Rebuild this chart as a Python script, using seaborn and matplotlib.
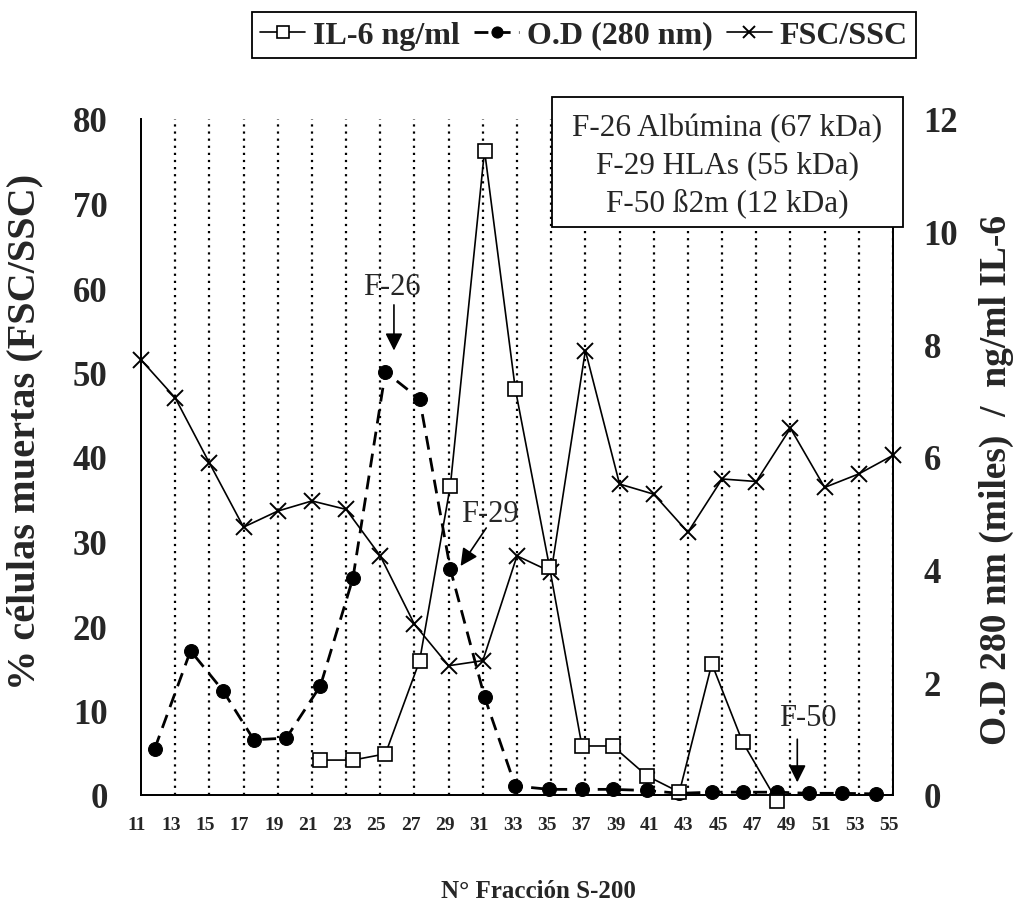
import matplotlib
matplotlib.use("Agg")
import matplotlib.pyplot as plt
import matplotlib.transforms as mtransforms
from matplotlib.patches import Rectangle
import seaborn as sns

# valores
fsc_x = [11, 13, 15, 17, 19, 21, 23, 25, 27, 29, 31, 33, 35, 37, 39, 41, 43, 45, 47, 49, 51, 53, 55]
fsc_y = [51.5, 47.0, 39.3, 31.7, 33.6, 34.8, 33.8, 28.3, 20.2, 15.3, 15.9, 28.3, 26.4,
         52.6, 36.8, 35.6, 31.1, 37.4, 37.1, 43.4, 36.4, 38.0, 40.2]

od_x = [11.8, 13.9, 15.8, 17.6, 19.5, 21.5, 23.4, 25.3, 27.3, 29.1, 31.1, 32.9,
        34.9, 36.8, 38.6, 40.6, 42.5, 44.4, 46.2, 48.2, 50.1, 52.0, 54.0]
od_y = [0.82, 2.56, 1.85, 0.98, 1.01, 1.94, 3.85, 7.51, 7.03, 4.01, 1.74, 0.16,
        0.10, 0.10, 0.10, 0.08, 0.03, 0.05, 0.05, 0.05, 0.03, 0.03, 0.02]

il6_x = od_x[5:20]
il6_y = [0.62, 0.62, 0.73, 2.38, 5.49, 11.44, 7.21, 4.05, 0.87, 0.87, 0.34, 0.05,
         2.33, 0.94, -0.1]

xticks = [11, 13, 15, 17, 19, 21, 23, 25, 27, 29, 31, 33, 35, 37, 39, 41, 43, 45, 47, 49, 51, 53, 55]
grid_x = xticks[1:]
left_ticks = [0, 10, 20, 30, 40, 50, 60, 70, 80]
right_ticks = [0, 2, 4, 6, 8, 10, 12]

sns.set_style("white")
plt.rcParams["font.family"] = ["Liberation Serif", "DejaVu Serif"]
plt.rcParams["font.weight"] = "bold"
plt.rcParams["axes.labelweight"] = "bold"

W, H = 1021, 904
fig = plt.figure(figsize=(W / 100, H / 100), dpi=100)
ax = fig.add_axes([141 / W, 1 - 796 / H, 752 / W, 676 / H])
ax2 = ax.twinx()

for gx in grid_x:
    ax.axvline(gx, color="k", lw=1.6, ls=(0, (1, 2.2)), zorder=0)

sns.lineplot(x=fsc_x, y=fsc_y, ax=ax, color="k", lw=1.2, marker="x",
             markersize=11, markeredgecolor="k", markeredgewidth=1.4,
             label="FSC/SSC", legend=False, clip_on=False)
l_fsc = ax.lines[-1]

sns.lineplot(x=od_x, y=od_y, ax=ax2, color="k", lw=2.0, linestyle=(0, (5, 3)),
             marker="o", markersize=10, markeredgecolor="k", markerfacecolor="k",
             label="O.D (280 nm)", legend=False, clip_on=False)
l_od = ax2.lines[-1]

sns.lineplot(x=il6_x, y=il6_y, ax=ax2, color="k", lw=1.2, marker="s",
             markersize=10, markerfacecolor="white", markeredgecolor="k",
             markeredgewidth=1.2, label="IL-6 ng/ml", legend=False, clip_on=False)
l_il6 = ax2.lines[-1]

ax.set_xlim(11, 55)
ax.set_ylim(0, 80)
ax2.set_ylim(0, 12)
ax.set_xticks(xticks)
ax.set_yticks(left_ticks)
ax2.set_yticks(right_ticks)
ax.tick_params(axis="x", length=0, pad=15, labelsize=14)
ax.tick_params(axis="y", length=0, pad=24, labelsize=25)
ax2.tick_params(axis="y", length=0, pad=22, labelsize=25)

shift = mtransforms.ScaledTranslation(-4 / 100, 0, fig.dpi_scale_trans)
for lbl in ax.get_xticklabels():
    lbl.set_transform(lbl.get_transform() + shift)

for a in (ax, ax2):
    a.spines["top"].set_visible(False)
    for s in ("left", "bottom", "right"):
        a.spines[s].set_color("k")
        a.spines[s].set_linewidth(1.3)

ax.set_xlabel("N° Fracción S-200", fontsize=18)
ax.xaxis.set_label_coords(0.528, -0.124)
ax.set_ylabel("% células muertas (FSC/SSC)", fontsize=29)
ax.yaxis.set_label_coords(-0.130, 0.538)
ax2.set_ylabel("O.D 280 nm (miles)  /  ng/ml IL-6", fontsize=27)
ax2.yaxis.set_label_coords(1.114, 0.467)

arrow = dict(arrowstyle="-|>", color="k", lw=1.2, mutation_scale=26, shrinkA=0, shrinkB=0)
ax.text(25.7, 60.2, "F-26", ha="center", va="center", fontsize=22, fontweight="normal")
ax.annotate("", xy=(25.8, 52.6), xytext=(25.8, 58.0), arrowprops=arrow)
ax.text(31.4, 33.3, "F-29", ha="center", va="center", fontsize=22, fontweight="normal")
ax.annotate("", xy=(29.7, 27.1), xytext=(31.2, 31.6), arrowprops=arrow)
ax.text(50.0, 9.2, "F-50", ha="center", va="center", fontsize=22, fontweight="normal")
ax.annotate("", xy=(49.4, 1.5), xytext=(49.4, 6.6), arrowprops=arrow)

box = Rectangle((552 / W, 1 - 228 / H), 351 / W, 130 / H, transform=fig.transFigure,
                facecolor="white", edgecolor="k", lw=1.3, zorder=5)
fig.add_artist(box)
fig.text(727 / W, 1 - 166 / H,
         "F-26 Albúmina (67 kDa)\nF-29 HLAs (55 kDa)\nF-50 ß2m (12 kDa)",
         ha="center", va="center", fontsize=22.5, fontweight="normal",
         linespacing=1.35, zorder=6)

leg = fig.legend([l_il6, l_od, l_fsc], ["IL-6 ng/ml", "O.D (280 nm)", "FSC/SSC"],
                 loc="center", bbox_to_anchor=(584 / W, 1 - 36 / H), ncol=3,
                 fontsize=23, frameon=True, fancybox=False, edgecolor="k",
                 framealpha=1, handlelength=1.4, handletextpad=0.25,
                 columnspacing=0.45, borderpad=0.25, borderaxespad=0)
leg.get_frame().set_linewidth(1.3)
for h in leg.legend_handles:
    h.set_markersize(8)

fig.savefig("out.png", dpi=100)
